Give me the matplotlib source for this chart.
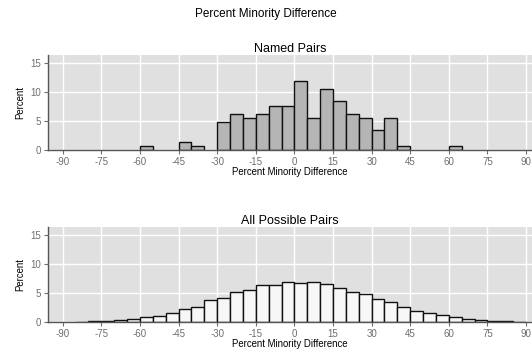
import numpy as np
import matplotlib.pyplot as plt

plt.rcParams['font.family'] = ['Liberation Sans', 'DejaVu Sans']
plt.rcParams['axes.unicode_minus'] = False

# bin edges (5-point bins) and percentages
named_left = [-60, -45, -40, -30, -25, -20, -15, -10, -5, 0, 5, 10, 15, 20, 25, 30, 35, 40, 60]
named_pct = [0.7, 1.4, 0.7, 4.9, 6.3, 5.6, 6.3, 7.7, 7.7, 11.9, 5.6, 10.5, 8.4, 6.3, 5.6, 3.5, 5.6, 0.7, 0.7]

all_left = list(range(-85, 90, 5))
all_pct = [0.05, 0.1, 0.2, 0.3, 0.5, 0.85, 1.05, 1.6, 2.3, 2.65, 3.8, 4.2, 5.1, 5.6, 6.3, 6.4,
           6.95, 6.65, 6.83, 6.5, 5.9, 5.15, 4.9, 4.05, 3.52, 2.65, 1.95, 1.5, 1.2, 0.85,
           0.6, 0.4, 0.15, 0.1, 0.05]

xticks = list(range(-90, 91, 15))
yticks = [0, 5, 10, 15]

fig = plt.figure(figsize=(5.32, 3.55), dpi=100)
fig.text(0.5, 0.96, 'Percent Minority Difference', ha='center', va='center', fontsize=8.5)

ax1 = fig.add_axes([48.3 / 532, 1 - 150 / 355, 1 - 48.3 / 532, 95 / 355])
ax2 = fig.add_axes([48.3 / 532, 1 - 322 / 355, 1 - 48.3 / 532, 95.3 / 355])


def style(ax, title):
    ax.set_facecolor('#e0e0e0')
    ax.set_xlim(-95.6, 92.3)
    ax.set_ylim(0, 16.44)
    ax.set_xticks(xticks)
    ax.set_yticks(yticks)
    ax.grid(True, color='white', linewidth=1)
    ax.set_axisbelow(True)
    for s in ['top', 'right']:
        ax.spines[s].set_visible(False)
    for s in ['left', 'bottom']:
        ax.spines[s].set_color('#555555')
        ax.spines[s].set_linewidth(1)
    ax.tick_params(colors='#6e6e6e', labelsize=7, length=3, width=0.8, pad=2)
    ax.set_xlabel('Percent Minority Difference', fontsize=6.9, labelpad=0)
    ax.set_ylabel('Percent', fontsize=6.9, labelpad=4)
    ax.set_title(title, fontsize=9, pad=2)


ax1.bar(named_left, named_pct, width=5, align='edge', color='#b5b5b5', edgecolor='#111111', linewidth=1)
style(ax1, 'Named Pairs')

ax2.bar(all_left, all_pct, width=5, align='edge', color='#f7f7f7', edgecolor='#111111', linewidth=1)
style(ax2, 'All Possible Pairs')

fig.savefig('out.png', dpi=100)
